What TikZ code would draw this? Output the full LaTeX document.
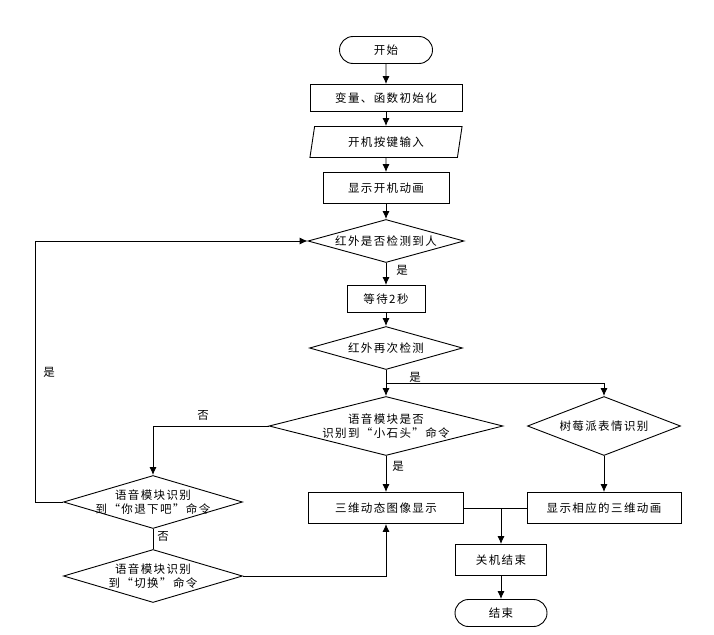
\documentclass[tikz,border=0pt]{standalone}
\usepackage{fontspec}
\setmainfont[LetterSpace=12]{Noto Sans CJK SC}
\usetikzlibrary{shapes.geometric,shapes.misc,arrows.meta}

\begin{document}
\begin{tikzpicture}[x=1pt,y=-1pt,line width=0.9pt,font=\fontsize{11.5}{14}\selectfont,
  arr/.style={-{Latex[length=8pt,width=7pt]}},
  proc/.style={draw,rectangle,minimum height=27pt,inner sep=0pt},
  term/.style={draw,rounded rectangle,minimum width=93pt,minimum height=27pt,inner sep=0pt},
  io/.style={draw,trapezium,trapezium left angle=77,trapezium right angle=103,trapezium stretches=true,minimum width=153pt,minimum height=31pt,inner sep=0pt},
  dec/.style={draw,diamond,inner sep=0pt},
  txt/.style={align=center,inner sep=0pt}]

\useasboundingbox (0,0) rectangle (714,634);

\node[term] (start) at (386,50) {开始};
\node[proc,minimum width=152pt] (init) at (386,98) {变量、函数初始化};
\node[io] (input) at (386,142) {开机按键输入};
\node[proc,minimum width=126pt,minimum height=31pt] (anim) at (386,188) {显示开机动画};
\node[dec,minimum width=156pt,minimum height=43pt] (d1) at (386,241) {}; \node[txt] at (d1) {红外是否检测到人};
\node[proc,minimum width=78pt] (wait) at (386,299) {等待2秒};
\node[dec,minimum width=153pt,minimum height=43pt] (d2) at (386,348) {}; \node[txt] at (d2) {红外再次检测};
\node[dec,minimum width=234pt,minimum height=59pt] (d3) at (386,426) {}; \node[txt] at (d3) {语音模块是否\\识别到“小石头”命令};
\node[dec,minimum width=153pt,minimum height=59pt] (d4) at (604,426) {}; \node[txt] at (d4) {树莓派表情识别};
\node[proc,minimum width=155pt,minimum height=31pt] (show3d) at (386,508) {三维动态图像显示};
\node[proc,minimum width=154pt,minimum height=31pt] (showexp) at (604,508) {显示相应的三维动画};
\node[proc,minimum width=91pt,minimum height=31pt] (off) at (501,560) {关机结束};
\node[term,minimum width=92pt] (end) at (501,613) {结束};
\node[dec,minimum width=179pt,minimum height=53pt] (d5) at (153,502) {}; \node[txt] at (d5) {语音模块识别\\到“你退下吧”命令};
\node[dec,minimum width=179pt,minimum height=53pt] (d6) at (153,576) {}; \node[txt] at (d6) {语音模块识别\\到“切换”命令};

\coordinate (split) at (386,383); \coordinate (merge) at (501,508); \coordinate (back) at (35,502);

\draw[arr] (start) -- (init);
\draw[arr] (init) -- (input);
\draw[arr] (input) -- (anim);
\draw[arr] (anim) -- (d1);
\draw[arr] (d1) -- (wait);
\draw[arr] (wait) -- (d2);
\draw[arr] (d2) -- (d3);
\draw[arr] (split) -| (d4.north);
\draw[arr] (d3.west) -| (d5.north);
\draw[arr] (d3) -- (show3d);
\draw[arr] (d4) -- (showexp);
\draw (d5) -- (d6);
\draw[arr] (d5.west) -- (back) |- (d1.west);
\draw[arr] (d6.east) -| (show3d.south);
\draw (show3d) -- (showexp);
\draw[arr] (merge) -- (off);
\draw[arr] (off) -- (end);

\node at (402,270) {是};
\node at (415,377) {是};
\node at (398,466) {是};
\node at (203,415) {否};
\node at (163,536) {否};
\node at (49,372) {是};

\end{tikzpicture}
\end{document}
